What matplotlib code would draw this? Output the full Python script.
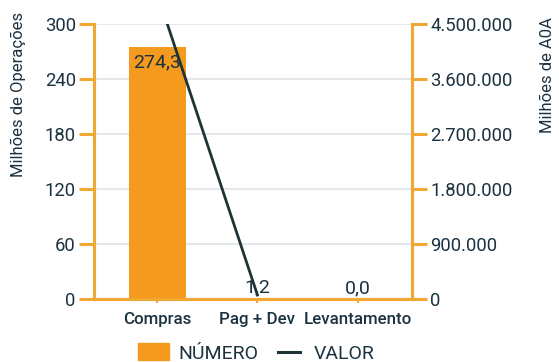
import numpy as np
import matplotlib
matplotlib.use("Agg")
from matplotlib import pyplot as plt
from matplotlib.ticker import FuncFormatter
from matplotlib.patches import Patch, Rectangle
from matplotlib.lines import Line2D
from matplotlib.legend_handler import HandlerPatch

categories = ["Compras", "Pag + Dev", "Levantamento"]
numero = [274.3, 1.2, 0.0]            # milhões de operações
valor = [5000000, 65000, np.nan]      # milhões de AOA

left_ticks = [0, 60, 120, 180, 240, 300]
right_ticks = [0, 900000, 1800000, 2700000, 3600000, 4500000]

ORANGE = "#f39a1f"
SPINE = "#f0a832"
DARK = "#1c3240"
LINE = "#1f3336"
GRID = "#e5e8eb"

plt.rcParams["font.family"] = ["Roboto", "DejaVu Sans"]

fig = plt.figure(figsize=(5.59, 3.62), dpi=100)
ax = fig.add_axes([0.168, 0.174, 0.569, 0.760])
ax2 = ax.twinx()

x = np.arange(len(categories))
ax.bar(x, numero, width=0.57, color=ORANGE, zorder=2)
ax2.plot(x, valor, color=LINE, lw=2, zorder=3)

ax.set_xlim(-0.63, 2.54)
ax.set_ylim(0, 300)
ax2.set_ylim(0, 4500000)
ax.set_yticks(left_ticks)
ax2.set_yticks(right_ticks)
ax2.yaxis.set_major_formatter(FuncFormatter(lambda v, p: f"{int(v):,}".replace(",", ".")))

ax.grid(axis="y", color=GRID, lw=1.5, zorder=0)
ax.set_axisbelow(True)

for a in (ax, ax2):
    a.spines["top"].set_visible(False)
    for s in ("left", "right", "bottom"):
        a.spines[s].set_color(SPINE)
        a.spines[s].set_linewidth(2.2)
    a.tick_params(axis="y", colors=SPINE, labelcolor=DARK, labelsize=13.3, length=11, width=2.2, pad=2)

ax.set_xticks(x)
ax.set_xticklabels(categories, fontsize=12.2, fontweight="medium", color=DARK)
ax.tick_params(axis="x", colors=SPINE, labelcolor=DARK, length=3, width=1.5, pad=6)

fig.text(18 / 559, 1 - 94 / 362, "Milhões de Operações", rotation=90, ha="center", va="center",
         fontsize=12, color=DARK)
fig.text(548 / 559, 1 - 75 / 362, "Milhões de A0A", rotation=90, ha="center", va="center",
         fontsize=12, color=DARK)

for xi, v in zip(x, numero):
    txt = f"{v:.1f}".replace(".", ",")
    if v > 30:
        ax.text(xi, v - 6, txt, ha="center", va="top", fontsize=14, color=DARK, zorder=4)
    else:
        ax.text(xi, v + 2, txt, ha="center", va="bottom", fontsize=14, color=DARK, zorder=4)


def wide_patch(legend, orig_handle, xdescent, ydescent, width, height, fontsize):
    return Rectangle((-xdescent - 2.9, -ydescent - 1), width + 5.8, height + 2)


handles = [Patch(color=ORANGE, label="NÚMERO"),
           Line2D([], [], color=LINE, lw=2.2, label="VALOR")]
leg = fig.legend(handles=handles, loc="lower center", bbox_to_anchor=(0.462, -0.05), ncol=2,
                 frameon=False, fontsize=14, handlelength=1.18, handleheight=0.75,
                 columnspacing=1.0, handletextpad=0.7,
                 handler_map={Patch: HandlerPatch(patch_func=wide_patch)})
for t in leg.get_texts():
    t.set_color(DARK)

fig.savefig("out.png", dpi=100)
